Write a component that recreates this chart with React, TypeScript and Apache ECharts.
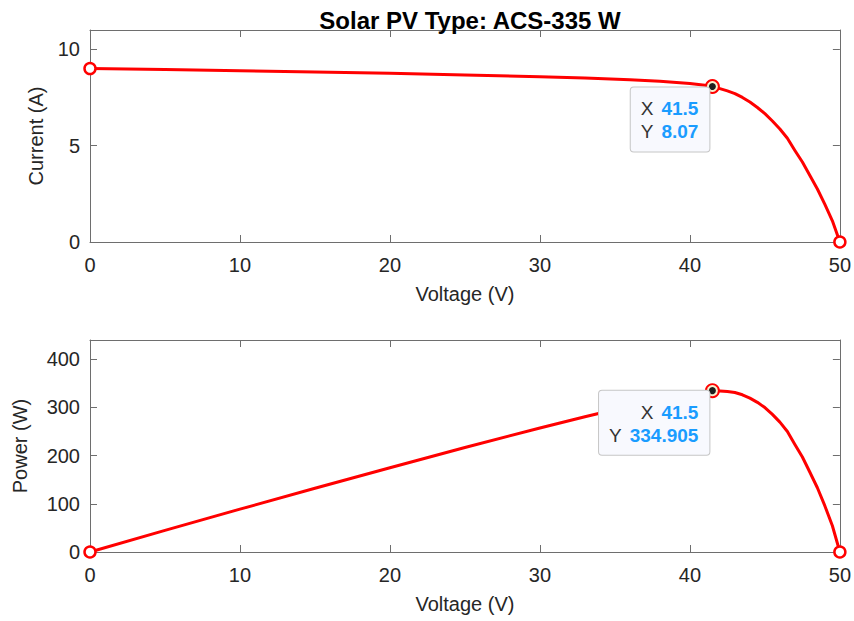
import React, { useEffect, useRef } from "react";
import * as echarts from "echarts";

// Voltage samples (V)
const voltage = [0, 5, 10, 15, 20, 25, 30, 33, 36, 38, 40, 41, 41.5, 42, 42.5, 43, 43.5, 44, 44.5, 45, 45.5, 46, 46.5, 47, 47.5, 48, 48.5, 49, 49.5, 50];
// Current (A)
const current = [9.0, 8.95, 8.89, 8.82, 8.75, 8.67, 8.58, 8.51, 8.42, 8.34, 8.22, 8.13, 8.07, 7.96, 7.84, 7.7, 7.5, 7.26, 6.98, 6.66, 6.28, 5.86, 5.38, 4.75, 4.15, 3.45, 2.75, 1.95, 1.1, 0];
// Power (W)
const power = [0, 44.8, 88.9, 132.3, 175.0, 216.8, 257.4, 280.8, 303.1, 316.9, 328.8, 333.3, 334.9, 334.3, 333.2, 331.1, 326.3, 319.4, 310.6, 299.7, 285.7, 269.6, 250.2, 223.3, 197.1, 165.6, 133.4, 95.6, 54.5, 0];

// Data tip values
const tipV = 41.5;
const tipI = 8.07;
const tipP = 334.905;
const tipVText = "41.5";
const tipIText = "8.07";
const tipPText = "334.905";

const titleText = "Solar PV Type: ACS-335 W";
const xName = "Voltage (V)";
const yNameTop = "Current (A)";
const yNameBottom = "Power (W)";

const FONT = "'Liberation Sans', Arial, Helvetica, sans-serif";
const AXIS_COLOR = "#6e6e6e";
const TEXT_COLOR = "#262626";

export default function App() {
  const ref = useRef<HTMLDivElement>(null);

  useEffect(() => {
    if (!ref.current) return;
    const chart = echarts.init(ref.current, undefined, { renderer: "svg" });

    const ivData = voltage.map((v, i) => [v, current[i]]);
    const pvData = voltage.map((v, i) => [v, power[i]]);
    const last = voltage.length - 1;

    const baseX = (gridIndex: number) => ({
      type: "value" as const,
      gridIndex,
      min: 0,
      max: 50,
      interval: 10,
      position: "bottom" as const,
      name: xName,
      nameLocation: "middle" as const,
      nameGap: 42,
      nameTextStyle: { fontSize: 20, color: TEXT_COLOR, fontFamily: FONT },
      axisLine: { show: true, onZero: false, lineStyle: { color: AXIS_COLOR, width: 1 } },
      axisTick: { show: true, inside: true, length: 7, lineStyle: { color: AXIS_COLOR } },
      axisLabel: { fontSize: 20, color: TEXT_COLOR, fontFamily: FONT, margin: 13 },
      splitLine: { show: false },
    });
    const topX = (gridIndex: number) => ({
      type: "value" as const,
      gridIndex,
      min: 0,
      max: 50,
      interval: 10,
      position: "top" as const,
      axisLine: { show: true, onZero: false, lineStyle: { color: AXIS_COLOR, width: 1 } },
      axisTick: { show: true, inside: true, length: 7, lineStyle: { color: AXIS_COLOR } },
      axisLabel: { show: false },
      splitLine: { show: false },
    });
    const leftY = (gridIndex: number, max: number, interval: number, name: string, gap: number) => ({
      type: "value" as const,
      gridIndex,
      min: 0,
      max,
      interval,
      position: "left" as const,
      name,
      nameLocation: "middle" as const,
      nameGap: gap,
      nameRotate: 90,
      nameTextStyle: { fontSize: 20, color: TEXT_COLOR, fontFamily: FONT },
      axisLine: { show: true, onZero: false, lineStyle: { color: AXIS_COLOR, width: 1 } },
      axisTick: { show: true, inside: true, length: 7, lineStyle: { color: AXIS_COLOR } },
      axisLabel: { fontSize: 20, color: TEXT_COLOR, fontFamily: FONT, margin: 10, showMaxLabel: false },
      splitLine: { show: false },
    });
    const rightY = (gridIndex: number, max: number, interval: number) => ({
      type: "value" as const,
      gridIndex,
      min: 0,
      max,
      interval,
      position: "right" as const,
      axisLine: { show: true, onZero: false, lineStyle: { color: AXIS_COLOR, width: 1 } },
      axisTick: { show: true, inside: true, length: 7, lineStyle: { color: AXIS_COLOR } },
      axisLabel: { show: false },
      splitLine: { show: false },
    });

    const tipLabel = (vText: string, yText: string, pos: number[]) => ({
      show: true,
      position: pos,
      align: "right",
      verticalAlign: "top",
      formatter: `{k|X}{v|${vText}}\n{k|Y}{v|${yText}}`,
      backgroundColor: "#f8f9fe",
      borderColor: "#c6c6c6",
      borderWidth: 1,
      borderRadius: 3,
      padding: [10, 11, 8, 10],
      lineHeight: 23,
      rich: {
        k: { fontSize: 19, color: "#333333", fontFamily: FONT, lineHeight: 23, padding: [0, 8, 0, 0] },
        v: { fontSize: 19, color: "#1a9cff", fontWeight: "bold", fontFamily: FONT, lineHeight: 23 },
      },
    });

    const lineSeries = (xi: number, yi: number, data: number[][]) => ({
      type: "line" as const,
      xAxisIndex: xi,
      yAxisIndex: yi,
      data,
      showSymbol: false,
      smooth: false,
      lineStyle: { color: "#ff0000", width: 3, join: "round" },
      itemStyle: { color: "#ff0000" },
      z: 2,
      silent: true,
    });
    const endSeries = (xi: number, yi: number, data: number[][]) => ({
      type: "scatter" as const,
      xAxisIndex: xi,
      yAxisIndex: yi,
      data,
      symbol: "circle",
      symbolSize: 11,
      itemStyle: { color: "#ffffff", borderColor: "#ff0000", borderWidth: 2.5, opacity: 1 },
      z: 3,
      silent: true,
    });
    const tipOuter = (xi: number, yi: number, data: number[][]) => ({
      type: "scatter" as const,
      xAxisIndex: xi,
      yAxisIndex: yi,
      data,
      symbol: "circle",
      symbolSize: 15,
      itemStyle: { color: "#ff0000", opacity: 1 },
      z: 4,
      silent: true,
    });
    const tipInner = (xi: number, yi: number, data: number[][], label: any) => ({
      type: "scatter" as const,
      xAxisIndex: xi,
      yAxisIndex: yi,
      data,
      symbol: "circle",
      symbolSize: 9,
      itemStyle: { color: "#1e1e1e", borderColor: "#f7f1cf", borderWidth: 2, opacity: 1 },
      label,
      z: 5,
      silent: true,
    });

    chart.setOption({
      animation: false,
      backgroundColor: "#ffffff",
      title: {
        text: titleText,
        left: 465,
        top: 3,
        textAlign: "center",
        textStyle: { fontSize: 24, fontWeight: "bold", color: "#000000", fontFamily: FONT },
      },
      grid: [
        { left: 90, top: 30, width: 751, height: 212 },
        { left: 90, top: 340, width: 751, height: 212 },
      ],
      xAxis: [baseX(0), topX(0), baseX(1), topX(1)],
      yAxis: [
        leftY(0, 11, 5, yNameTop, 44),
        rightY(0, 11, 5),
        leftY(1, 440, 100, yNameBottom, 60),
        rightY(1, 440, 100),
      ],
      series: [
        lineSeries(0, 0, ivData),
        endSeries(0, 0, [ivData[0], ivData[last]]),
        tipOuter(0, 0, [[tipV, tipI]]),
        tipInner(0, 0, [[tipV, tipI]], tipLabel(tipVText, tipIText, [2.5, 6.5])),
        lineSeries(2, 2, pvData),
        endSeries(2, 2, [pvData[0], pvData[last]]),
        tipOuter(2, 2, [[tipV, tipP]]),
        tipInner(2, 2, [[tipV, tipP]], tipLabel(tipVText, tipPText, [2.5, 5.5])),
      ],
    });

    return () => chart.dispose();
  }, []);

  return (
    <div
      ref={ref}
      style={{ position: "fixed", left: 0, top: 0, width: 854, height: 621, background: "#ffffff" }}
    />
  );
}
